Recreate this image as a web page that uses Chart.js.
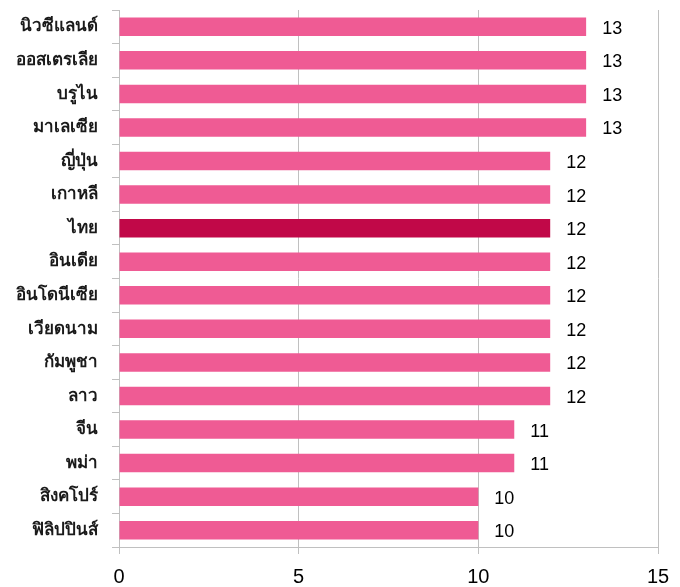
<!DOCTYPE html>
<html><head><meta charset="utf-8">
<script src="https://cdn.jsdelivr.net/npm/chart.js@4/dist/chart.umd.min.js"></script>
<style>html,body{margin:0;padding:0;background:#fff}#wrap{width:680px;height:587px}</style>
</head><body><div id="wrap"><canvas id="c" width="680" height="587"></canvas></div>
<script>
const categories = ["นิวซีแลนด์","ออสเตรเลีย","บรูไน","มาเลเซีย","ญี่ปุ่น","เกาหลี","ไทย","อินเดีย","อินโดนีเซีย","เวียดนาม","กัมพูชา","ลาว","จีน","พม่า","สิงคโปร์","ฟิลิปปินส์"];
const values = [13,13,13,13,12,12,12,12,12,12,12,12,11,11,10,10];
const highlight = "ไทย";
const xTicks = [0,5,10,15];

const pink = "rgb(239,91,148)", dark = "rgb(193,8,72)";
const colors = categories.map(c => c === highlight ? dark : pink);
const gridColor = "#c0c0c0";
const FONT = "'Liberation Sans', Arial, sans-serif";

const labelPlugin = {
  id: 'valLabels',
  afterDatasetsDraw(chart) {
    const ctx = chart.ctx;
    const meta = chart.getDatasetMeta(0);
    ctx.save();
    ctx.font = "18px " + FONT;
    ctx.fillStyle = "#000";
    ctx.textAlign = "left";
    ctx.textBaseline = "middle";
    meta.data.forEach((bar, i) => {
      ctx.fillText(String(values[i]), bar.x + 16, bar.y + 2);
    });
    ctx.restore();
  }
};

new Chart(document.getElementById('c'), {
  type: 'bar',
  data: { labels: categories, datasets: [{ data: values, backgroundColor: colors, borderWidth: 0, barPercentage: 0.69, categoryPercentage: 0.8 }] },
  options: {
    indexAxis: 'y',
    responsive: false,
    animation: false,
    devicePixelRatio: 1,
    layout: { padding: { top: 10, right: 22, left: 0, bottom: 0 } },
    plugins: { legend: { display: false }, tooltip: { enabled: false } },
    scales: {
      x: {
        min: 0, max: 15,
        afterBuildTicks(axis) { axis.ticks = xTicks.map(v => ({ value: v })); },
        afterFit(axis) { axis.height = 40; axis.paddingLeft = 0; axis.paddingRight = 0; },
        grid: { color: gridColor, lineWidth: 1, drawTicks: true, tickLength: 7, tickColor: gridColor },
        border: { color: gridColor, width: 1 },
        ticks: { font: { size: 20, family: FONT }, color: "#000", padding: 11, maxRotation: 0 }
      },
      y: {
        afterFit(axis) { axis.width = 119; axis.paddingTop = 0; axis.paddingBottom = 0; },
        grid: { offset: true, drawOnChartArea: false, drawTicks: true, tickLength: 7, color: gridColor },
        border: { color: gridColor, width: 1 },
        ticks: { font: { size: 17, weight: 'bold', family: FONT }, color: "#1a1a1a", padding: 14, autoSkip: false }
      }
    }
  },
  plugins: [labelPlugin]
});
</script></body></html>
